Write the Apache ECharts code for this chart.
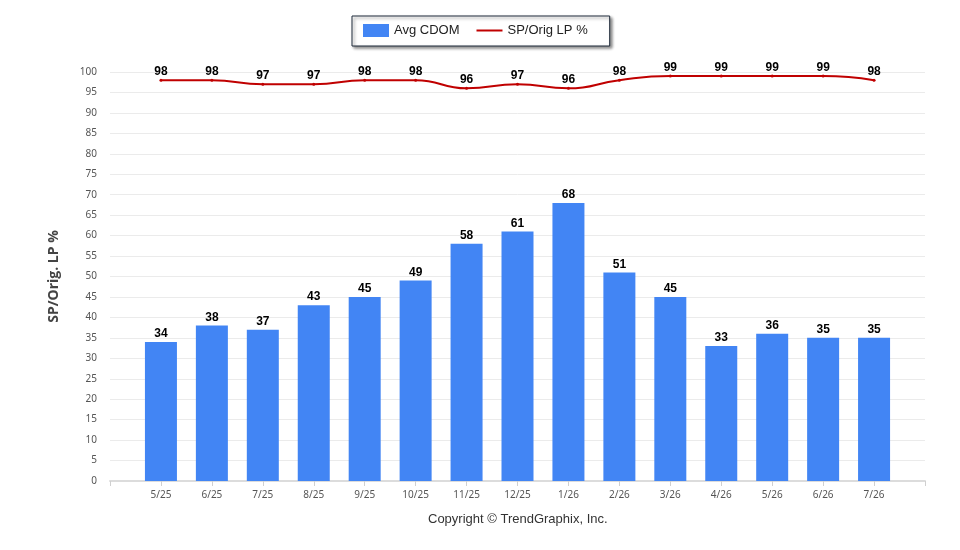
<!DOCTYPE html>
<html>
<head>
    <meta charset="utf-8"/>
    <title>ECharts</title>
    <script src="https://cdn.jsdelivr.net/npm/echarts@6/dist/echarts.min.js"></script>
    <style>
        body { margin: 0; background: #fff; }
        #main { width: 960px; height: 550px; }
    </style>
</head>
<body>
<div id="main"></div>
<script type="text/javascript">
    // months, with an empty slot at each end of the axis
    var months = ['', '5/25', '6/25', '7/25', '8/25', '9/25', '10/25', '11/25', '12/25',
        '1/26', '2/26', '3/26', '4/26', '5/26', '6/26', '7/26', ''];
    var avgCdom = [null, 34, 38, 37, 43, 45, 49, 58, 61, 68, 51, 45, 33, 36, 35, 35, null];
    var spOrigLp = [null, 98, 98, 97, 97, 98, 98, 96, 97, 96, 98, 99, 99, 99, 99, 98, null];

    var myChart = echarts.init(document.getElementById('main'));

    var option = {
        animation: false,
        textStyle: { fontFamily: 'Noto Sans' },
        legend: {
            top: 16,
            left: 352,
            padding: [8, 22, 9, 11],
            itemGap: 17,
            itemWidth: 26,
            itemHeight: 13,
            borderColor: '#1f2a3a',
            borderWidth: 1,
            backgroundColor: '#fff',
            shadowColor: 'rgba(0,0,0,0.45)',
            shadowBlur: 3,
            shadowOffsetX: 2,
            shadowOffsetY: 2,
            textStyle: { fontFamily: 'Liberation Sans', fontSize: 13, color: '#222' },
            data: [
                { name: 'Avg CDOM', icon: 'rect' },
                { name: 'SP/Orig LP %', icon: 'path://M0,0 L26,0 L26,2 L0,2 Z' }
            ]
        },
        grid: { left: 110, right: 35, top: 72, bottom: 69 },
        xAxis: {
            type: 'category',
            boundaryGap: false,
            data: months,
            axisLine: { lineStyle: { color: '#dcdcdc', width: 2 } },
            axisTick: { lineStyle: { color: '#d0d0d0' }, length: 5 },
            axisLabel: { color: '#555', fontSize: 10, margin: 9 }
        },
        yAxis: {
            type: 'value',
            min: 0,
            max: 100,
            interval: 5,
            name: 'SP/Orig. LP %',
            nameLocation: 'middle',
            nameGap: 49,
            nameTextStyle: { fontFamily: 'Open Sans', fontSize: 14, fontWeight: 'bold', color: '#444' },
            axisLine: { show: false },
            axisTick: { show: false },
            axisLabel: { color: '#555', fontSize: 10, margin: 13 },
            splitLine: { lineStyle: { color: '#ebebeb' } }
        },
        series: [
            {
                name: 'Avg CDOM',
                type: 'bar',
                data: avgCdom,
                barWidth: 32,
                itemStyle: { color: '#4285f4' },
                label: {
                    show: true,
                    position: 'top',
                    distance: 2,
                    fontFamily: 'Liberation Sans',
                    fontWeight: 'bold',
                    fontSize: 12,
                    color: '#000'
                }
            },
            {
                name: 'SP/Orig LP %',
                type: 'line',
                data: spOrigLp,
                smooth: true,
                symbol: 'circle',
                symbolSize: 3,
                lineStyle: { color: '#c00000', width: 2 },
                itemStyle: { color: '#c00000' },
                label: {
                    show: true,
                    position: 'top',
                    distance: 1,
                    fontFamily: 'Liberation Sans',
                    fontWeight: 'bold',
                    fontSize: 12,
                    color: '#000'
                }
            }
        ],
        graphic: [
            {
                type: 'text',
                left: 428,
                top: 513,
                style: {
                    text: 'Copyright © TrendGraphix, Inc.',
                    fontFamily: 'Liberation Sans',
                    fontSize: 13,
                    fill: '#333'
                }
            }
        ]
    };

    myChart.setOption(option);
</script>
</body>
</html>
